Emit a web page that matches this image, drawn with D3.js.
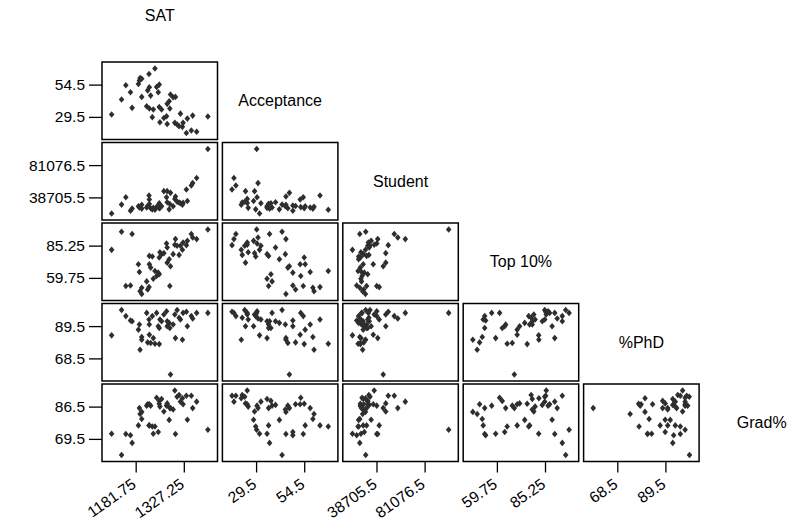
<!DOCTYPE html>
<html>
<head>
<meta charset="utf-8">
<script src="https://cdn.jsdelivr.net/npm/d3@7"></script>
<style>
  body { margin: 0; background: #fff; }
  svg { display: block; }
  text { font-family: "Liberation Sans", Arial, Helvetica, sans-serif; fill: #000; }
</style>
</head>
<body>
<svg id="chart" width="789" height="528"></svg>
<script>
// Variable names, shown on the diagonal
const variableNames = ["SAT", "Acceptance", "Student", "Top 10%", "%PhD", "Grad%"];

// One entry per university, same order in every array
const sat = [1109, 1139, 1152, 1166, 1171, 1190, 1193, 1195, 1200, 1200, 1215, 1218, 1222, 1223, 1223, 1227,
  1232, 1235, 1240, 1245, 1250, 1253, 1253, 1255, 1260, 1267, 1275, 1277, 1277, 1283, 1285, 1287,
  1295, 1300, 1302, 1307, 1313, 1317, 1323, 1325, 1335, 1338, 1350, 1354, 1366, 1400];
const acceptance = [31.3, 43, 54, 48.6, 36.5, 55, 57.6, 59.6, 59, 45, 37.8, 50, 62.7, 52.4, 36, 46,
  29.3, 35.2, 67, 52.7, 48.6, 54.5, 37.2, 25.4, 35.2, 28.7, 30, 39.6, 24, 41.6, 36, 46.8,
  44.7, 24.9, 45, 23.6, 22.3, 32, 21.8, 24.9, 17, 28.2, 19, 30.5, 18, 29.8];
const student = [17520, 29220, 38930, 21280, 24000, 27000, 25500, 26500, 24000, 29000, 25500, 27500, 41100, 35850, 30000, 24500,
  23000, 25000, 22500, 26000, 28000, 24500, 31000, 25000, 27000, 46870, 38930, 32300, 46870, 23000, 30000, 44640,
  27000, 36700, 39800, 33000, 32000, 31000, 29000, 31500, 49070, 34000, 54370, 57460, 64080, 102262];
const top10 = [81.9, 96.2, 53.3, 53.8, 94.4, 70.5, 64.4, 49.3, 52, 47, 57, 50.6, 52.5, 70.5, 77.1, 67.9,
  76.6, 59.1, 65.2, 61.2, 63.9, 75.8, 62.6, 80, 78.5, 79.3, 86.9, 83.8, 71.8, 74.5, 53.3, 69,
  78.5, 85.9, 90.4, 85.1, 77.9, 85.1, 82, 87.7, 85.6, 89, 94.4, 91.7, 90.4, 98];
const phd = [83.5, 100, 96, 93.1, 92.7, 87.2, 90.5, 74.1, 82.4, 80.6, 98.1, 78.9, 93.8, 83.9, 90.5, 78.5,
  96, 81.7, 78, 98.1, 89.4, 77.8, 88.3, 93.8, 92.7, 97, 99.2, 92.7, 89.4, 91.6, 88.3, 58,
  90.5, 97, 81.7, 99.9, 94.9, 93.8, 80.6, 98.1, 98.8, 89.4, 96, 94.4, 98.1, 98.1];
const grad = [72.2, 61, 72.1, 71.4, 67.4, 76.6, 85.7, 82.6, 80, 83.7, 87, 87.7, 76.6, 87.7, 76.6, 87,
  76, 72.2, 76, 91.2, 73.1, 88, 89.5, 86.5, 90.5, 83.9, 87, 87.4, 88.2, 79.5, 85.7, 85.7,
  85, 95, 72.1, 91.7, 92.6, 89.1, 90.9, 87.7, 92.2, 79.6, 92.2, 85.7, 89.1, 74.3];

// Tick values printed on the outer axes
const ticksSAT = [1181.75, 1327.25];
const ticksAcceptance = [29.5, 54.5];
const ticksStudent = [38705.5, 81076.5];
const ticksTop10 = [59.75, 85.25];
const ticksPhD = [68.5, 89.5];
const ticksGrad = [69.5, 86.5];

const columns = [sat, acceptance, student, top10, phd, grad];
const tickSets = [ticksSAT, ticksAcceptance, ticksStudent, ticksTop10, ticksPhD, ticksGrad];
const n = variableNames.length;

// Grid geometry
const left0 = 102, top0 = 62;
const cellW = 115.5, cellH = 77.5;
const pitchX = 120.4, pitchY = 80.5;

function paddedDomain(values) {
  const [lo, hi] = d3.extent(values);
  const pad = (hi - lo) * 0.1;
  return [lo - pad, hi + pad];
}
const xScales = columns.map(v => d3.scaleLinear().domain(paddedDomain(v)).range([0, cellW]));
const yScales = columns.map(v => d3.scaleLinear().domain(paddedDomain(v)).range([cellH, 0]));

const svg = d3.select("#chart");
const diamond = "M0,-3.3L2.8,0L0,3.3L-2.8,0Z";

const rows = d3.range(sat.length);

// Lower-triangle panels: row i plots variable i against column variable j
for (let i = 1; i < n; i++) {
  for (let j = 0; j < i; j++) {
    const g = svg.append("g")
      .attr("transform", `translate(${left0 + j * pitchX},${top0 + (i - 1) * pitchY})`);
    g.selectAll("path.pt")
      .data(rows)
      .join("path")
      .attr("class", "pt")
      .attr("d", diamond)
      .attr("transform", k => `translate(${xScales[j](columns[j][k])},${yScales[i](columns[i][k])})`)
      .attr("fill", "#2e2e2e");
    g.append("rect")
      .attr("width", cellW).attr("height", cellH)
      .attr("fill", "none").attr("stroke", "#000").attr("stroke-width", 1.5);
  }
}

// Left axes on the first column
for (let i = 1; i < n; i++) {
  const ax = svg.append("g")
    .attr("transform", `translate(${left0},${top0 + (i - 1) * pitchY})`)
    .call(d3.axisLeft(yScales[i]).tickValues(tickSets[i]).tickSize(13).tickPadding(4).tickFormat(d => String(d)));
  ax.select(".domain").remove();
  ax.selectAll(".tick line").attr("stroke", "#000").attr("stroke-width", 1.3);
  ax.selectAll(".tick text").style("font-size", "15.5px").attr("fill", "#000");
}

// Bottom axes under the last row
const bottomY = top0 + (n - 2) * pitchY + cellH;
for (let j = 0; j < n - 1; j++) {
  const ax = svg.append("g")
    .attr("transform", `translate(${left0 + j * pitchX},${bottomY})`)
    .call(d3.axisBottom(xScales[j]).tickValues(tickSets[j]).tickSize(11).tickFormat(d => String(d)));
  ax.select(".domain").remove();
  ax.selectAll(".tick line").attr("stroke", "#000").attr("stroke-width", 1.3);
  ax.selectAll(".tick text")
    .style("font-size", "15.5px").attr("fill", "#000")
    .attr("text-anchor", "end")
    .attr("dy", null).attr("y", 0)
    .attr("transform", "translate(1,25) rotate(-35)");
}

// Variable names on the diagonal
svg.selectAll("text.diag")
  .data(variableNames)
  .join("text")
  .attr("class", "diag")
  .attr("x", (d, k) => left0 + k * pitchX + cellW / 2)
  .attr("y", (d, k) => k === 0 ? 15 : top0 + (k - 1) * pitchY + cellH / 2)
  .attr("dy", "0.35em")
  .attr("text-anchor", "middle")
  .style("font-size", "16px")
  .text(d => d);
</script>
</body>
</html>
